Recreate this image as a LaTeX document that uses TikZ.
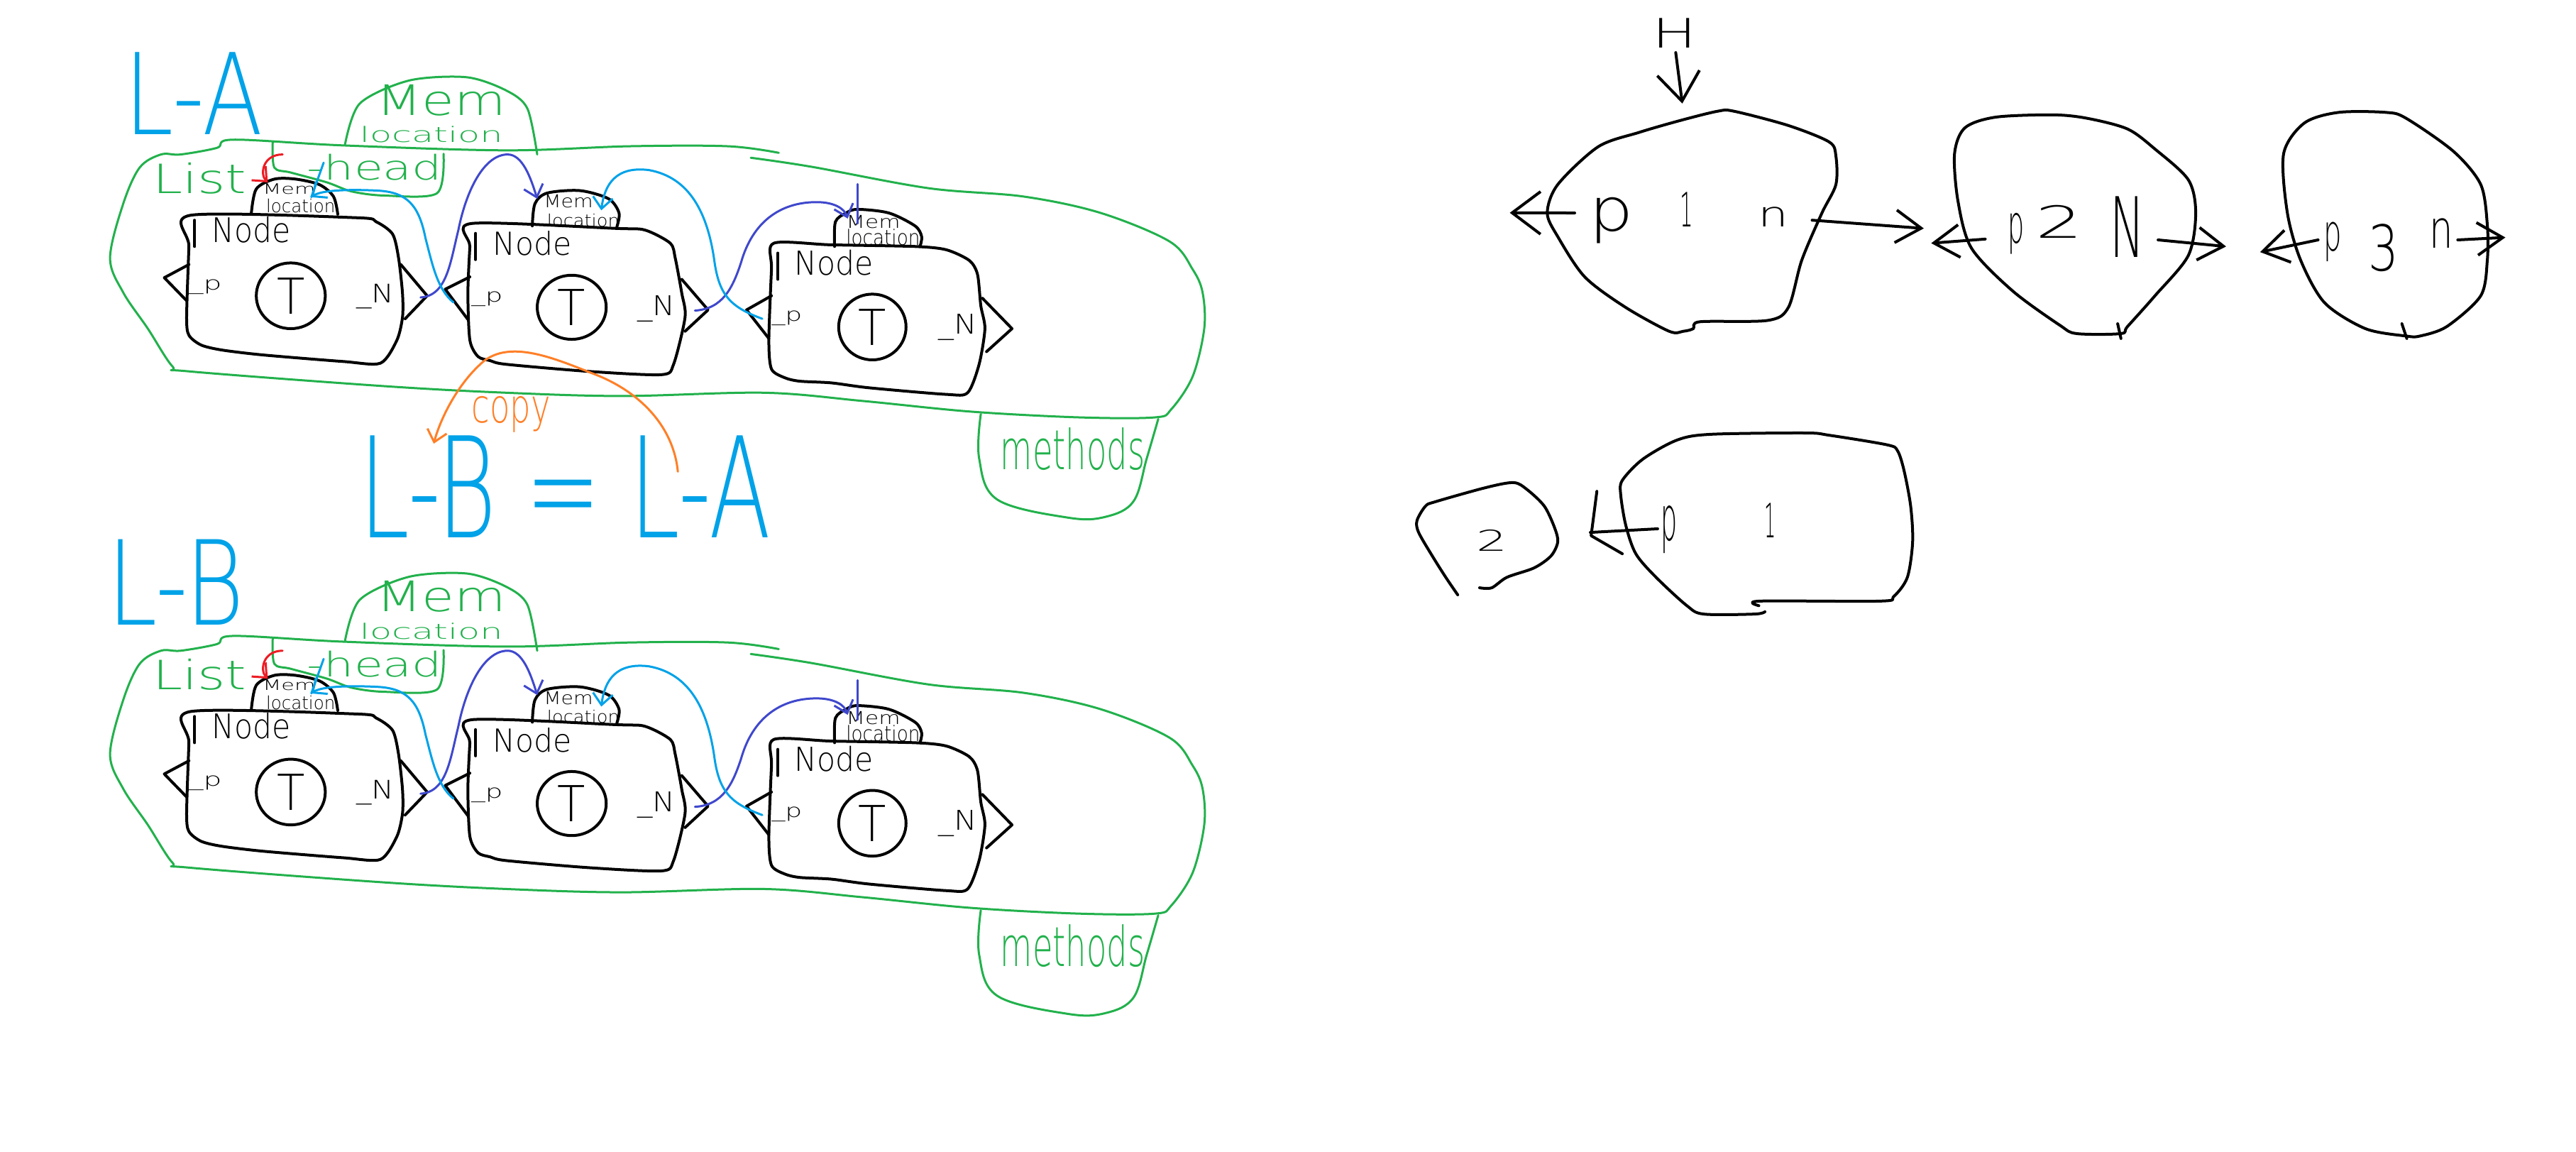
\documentclass[tikz,border=0pt]{standalone}
\usepackage{fontspec}
\setmainfont{DejaVu Sans ExtraLight}
\usetikzlibrary{arrows.meta,shapes.geometric}
\definecolor{pgreen}{RGB}{34,177,76}
\definecolor{plblue}{RGB}{0,162,232}
\definecolor{pdblue}{RGB}{63,72,204}
\definecolor{pred}{RGB}{237,28,36}
\definecolor{porange}{RGB}{255,127,39}
\newlength\su \setlength\su{2.315pt}
\newcommand{\hw}[3]{\resizebox*{#1\su}{#2\su}{#3}}
\tikzset{
  every node/.style={inner sep=0pt, outer sep=0pt},
  pen/.style={line cap=round, line join=round},
  blk/.style={pen, draw=black, line width=4pt},
  grn/.style={pen, draw=pgreen, line width=3pt},
  lbl/.style={pen, draw=plblue, line width=3pt},
  dbl/.style={pen, draw=pdblue, line width=3pt},
  rdl/.style={pen, draw=pred, line width=3pt},
  org/.style={pen, draw=porange, line width=3pt},
  tipsm/.style={-{Straight Barb[length=16pt,width=28pt]}},
  tipmd/.style={-{Straight Barb[length=36pt,width=46pt]}},
  tipbg/.style={-{Straight Barb[length=40pt,width=60pt]}},
  tcirc/.style={blk, ellipse, minimum width=42\su, minimum height=40\su},
}
\newcommand{\listsec}[2]{%
\begin{scope}[shift={(0,#2)}]
% container
\draw[grn] plot[smooth, tension=0.55] coordinates {(474,93) (443,89) (383,89) (308,91.5) (209,88.5) (142,85) (132,90) (110,94) (98,94) (85,102) (75,124) (67,157) (75,178) (90,200) (105,223) (115,226) (234,235) (308,239) (379,241) (465,239) (525,244) (591,250.5) (657,254) (703,254) (713,249) (726,229) (733,200) (732,178) (726,164) (712,147) (670,129.6) (623,119.6) (565,114.5) (494,101.5) (457,96)};
% methods
\draw[grn] plot[smooth, tension=0.6] coordinates {(597,252) (596,279) (607,304) (650,315) (673,314.5) (690,305) (698,279) (705,255)};
\node[text=pgreen] (#1meth) at (653,273.5) {\hw{88}{26}{methods}};
% mem location bubble
\draw[grn] plot[smooth] coordinates {(210,88) (219,63) (249,49) (284,47) (308,55) (321,66) (327,94)};
\node[text=pgreen] (#1mem) at (268.5,61) {\hw{79}{19}{Mem}};
\node[text=pgreen] (#1loc) at (262.5,82) {\hw{87}{10}{location}};
% list head
\node[text=pgreen] (#1list) at (121.5,108.5) {\hw{57}{19}{List}};
\node[text=pgreen] (#1head) at (228,102) {\hw{82}{16}{-head}};
\draw[grn] plot[smooth] coordinates {(166,86.5) (167,102) (177,105) (199,111) (214,116.5) (234,119) (266,117.6) (270,93.6)};
% node 1
\draw[blk] plot[smooth cycle, tension=0.45] coordinates {(116,131) (217,132.5) (229,135) (239,142.5) (242.6,157) (245,178.5) (245,193) (241.6,207) (231.6,221) (209,220) (160,216) (135,213) (122.5,210) (115,204) (113.6,193) (115,150)};
\draw[blk] (115,161) -- (100,169) -- (113.6,183);
\draw[blk] (244,161) -- (260,180) -- (246.6,194);
\draw[blk] (118.5,134) -- (118.5,150);
\draw[blk] plot[smooth] coordinates {(153,129.6) (156,115) (167,109) (180,109) (194.5,112.4) (203,119.6) (205.6,130.4)};
\node (#1m1a) at (176,115) {\hw{32}{6.5}{Mem}};
\node (#1m1b) at (183,125.5) {\hw{42}{8.5}{location}};
\node (#1n1) at (153,140) {\hw{48}{16}{Node}};
\node[tcirc] (#1t1) at (177,180) {\hw{17}{22}{T}};
\node (#1p1) at (125,174.5) {\hw{20}{9}{\_p}};
\node (#1x1) at (228.5,180.5) {\hw{23}{15}{\_N}};
% node 2
\draw[blk] plot[smooth cycle, tension=0.45] coordinates {(287,136) (375,139) (392.6,140) (408,148) (411,157) (415,178.5) (417,193) (410,221.7) (402.6,228) (358,226) (308,221.7) (298.5,219.5) (291,217) (286,207) (284.8,178.5) (286,150)};
\draw[blk] (286,168.5) -- (271,176) -- (284.8,194.4);
\draw[blk] (415,170) -- (431,188.6) -- (417,201.6);
\draw[blk] (289.5,142) -- (289.5,158);
\draw[blk] plot[smooth] coordinates {(324,137.5) (325.6,124) (333,117.5) (353,116) (370.5,121) (376.8,129.6) (375.5,138)};
\node (#1m2a) at (346,122.7) {\hw{30}{8}{Mem}};
\node (#1m2b) at (355,134) {\hw{44}{8}{location}};
\node (#1n2) at (324,148.3) {\hw{48}{15}{Node}};
\node[tcirc, minimum height=39\su] (#1t2) at (348,187) {\hw{17}{22}{T}};
\node (#1p2) at (296.5,182) {\hw{19}{9}{\_p}};
\node (#1x2) at (399.5,188) {\hw{23}{16}{\_N}};
% node 3
\draw[blk] plot[smooth cycle, tension=0.45] coordinates {(471,148) (506,149) (557,150) (576,152) (590,158.5) (595,167) (597,186) (599.5,200) (596,221.6) (589,239) (576,240) (529,236) (506,233) (487,232) (478,230) (469.6,224.6) (468,207) (469.6,164)};
\draw[blk] (469.6,180) -- (454.4,188.6) -- (468,206);
\draw[blk] (598,181.5) -- (616,200) -- (600.5,214);
\draw[blk] (473.5,154) -- (473.5,170);
\draw[blk] plot[smooth] coordinates {(508,150) (508.5,135) (515,129.6) (522,127.4) (541,129.6) (557,137.5) (561,144) (560,150)};
\node (#1m3a) at (531.5,135) {\hw{33}{8}{Mem}};
\node (#1m3b) at (537.5,144.5) {\hw{45}{10}{location}};
\node (#1n3) at (507.5,159.8) {\hw{48}{15.6}{Node}};
\node[tcirc, minimum width=41\su] (#1t3) at (531,199) {\hw{17}{22}{T}};
\node (#1p3) at (479,193.5) {\hw{18.5}{9}{\_p}};
\node (#1x3) at (583,199) {\hw{23.5}{16}{\_N}};
% connector end points
\coordinate (#1n1R) at (256,181);
\coordinate (#1b2in) at (327,121);
\coordinate (#1n2L) at (276,184);
\coordinate (#1b1in) at (189.5,120);
\coordinate (#1n2R) at (423,189);
\coordinate (#1b3in) at (516,133);
\coordinate (#1n3L) at (464,194);
\coordinate (#1b2inL) at (366,128);
\coordinate (#1hd) at (172,94);
\coordinate (#1b1top) at (163,111);
% next pointers
\draw[dbl, tipsm] (#1n1R) .. controls (272,180) and (274,160) .. (279,140) .. controls (284,115) and (295,94) .. (309,94) .. controls (318,94) and (323,108) .. (#1b2in);
\draw[dbl, tipsm] (#1n2R) .. controls (440,188) and (446,175) .. (451,160) .. controls (458,135) and (475,123) .. (497,123) .. controls (508,123) and (514,127) .. (#1b3in);
\draw[dbl] (522,112) -- (522,136);
% prev pointers
\draw[lbl, tipsm] (#1n2L) .. controls (266,176) and (263,160) .. (259,145) .. controls (255,125) and (248,117) .. (230,116) .. controls (210,115) and (195,116) .. (#1b1in);
\draw[lbl] (197,99) -- (#1b1in);
\draw[lbl, tipsm] (#1n3L) .. controls (445,187) and (438,180) .. (435,160) .. controls (431,130) and (420,108) .. (395,103.5) .. controls (375,101) and (368,112) .. (#1b2inL);
% head pointer
\draw[rdl, tipsm] (#1hd) .. controls (160,94) and (158,106) .. (#1b1top);
\end{scope}}

\begin{document}
\begin{tikzpicture}[x=2.315pt, y=-2.315pt]
\fill[white] (0,0) rectangle (1568,701);
\useasboundingbox (0,0) rectangle (1568,701);

% labels
\node[text=plblue] (la) at (118,57) {\hw{84}{50}{L-A}};
\node[text=plblue] (lb) at (107,354.5) {\hw{83}{52}{L-B}};
\node[text=plblue] (eq) at (344,296) {\hw{250}{62}{L-B = L-A}};

\listsec{A}{0}
\listsec{B}{302}

% copy arrow
\coordinate (cpS) at (412.6,287);
\coordinate (cpE) at (264,270);
\draw[org, tipsm] (cpS) .. controls (410,260) and (390,238) .. (360,227) .. controls (335,217) and (308,206) .. (292,222) .. controls (278,235) and (268,255) .. (cpE);
\node[text=porange] (copy) at (311,252) {\hw{48}{22}{copy}};

% ---------- right: doubly linked blobs ----------
\node (rH) at (1019.5,20) {\hw{27}{18}{H}};
\coordinate (r1top) at (1024,63);
\draw[blk, tipbg] (1020,32) -- (r1top);

\draw[blk] plot[smooth cycle, tension=0.5] coordinates {(1045.5,67.7) (1055.5,67.7) (1088.6,76.4) (1113.4,86.4) (1117.5,95) (1117.5,112.3) (1109,129.6) (1096.7,158.4) (1088.6,187) (1076,195) (1034.8,195.8) (1030.7,200) (1024.6,201.6) (1016,201.6) (989.4,187) (964.6,168.5) (948.2,144) (941.8,129.6) (948.2,112.3) (972.8,89.3) (997.6,80.6) (1022.5,73.4)};
\node (r1p) at (981,134) {\hw{27}{28}{p}};
\node (r1o) at (1026.6,127.7) {\hw{8}{21}{1}};
\node (r1n) at (1079.3,132) {\hw{18.6}{12}{n}};
\coordinate (r1L) at (958.5,129.6);
\coordinate (r1Lt) at (919,129.5);
\coordinate (r1R) at (1103,134);
\coordinate (r1Rt) at (1171,139);
\draw[blk, tipbg] (r1L) -- (r1Lt);
\draw[blk, tipmd] (r1R) -- (r1Rt);

\draw[blk] plot[smooth cycle, tension=0.5] coordinates {(1214.7,71.3) (1249.7,69.9) (1270.5,72) (1295,78.5) (1311.7,90.7) (1332,109.4) (1336.5,129.6) (1332,155.5) (1311.7,180) (1295,198.7) (1291,203) (1264,203) (1253.9,198) (1225,177) (1200,151) (1191.8,122.4) (1189.7,93.6) (1196,77.8)};
\draw[blk] (1289,197) -- (1291,206);
\node (r2p) at (1227,142) {\hw{10}{25}{p}};
\node (r2o) at (1253.5,135) {\hw{29}{20}{2}};
\node (r2n) at (1295,138) {\hw{21}{37}{N}};
\coordinate (r2L) at (1208.4,145.5);
\coordinate (r2Lt) at (1175.5,148);
\coordinate (r2R) at (1313.6,146);
\coordinate (r2Rt) at (1355,150);
\draw[blk, tipmd] (r2L) -- (r2Lt);
\draw[blk, tipmd] (r2R) -- (r2Rt);

\draw[blk] plot[smooth cycle, tension=0.5] coordinates {(1423.4,68.4) (1452.3,68.4) (1464.6,72) (1493.5,92.2) (1510,112.3) (1514,136.8) (1514,158.4) (1510,180) (1489.4,198.7) (1473,204.5) (1464.6,204.5) (1439.8,200) (1415,184.3) (1400.4,158.4) (1392.3,129.6) (1390,93.6) (1402.6,74.9)};
\draw[blk] (1462,197) -- (1465,206);
\node (r3p) at (1420,147) {\hw{11}{24}{p}};
\node (r3o) at (1451,151) {\hw{18.5}{29}{3}};
\node (r3n) at (1486,142) {\hw{14.5}{18}{n}};
\coordinate (r3L) at (1411,146);
\coordinate (r3Lt) at (1375.7,153.4);
\coordinate (r3R) at (1496,146);
\coordinate (r3Rt) at (1525,144.5);
\draw[blk, tipmd] (r3L) -- (r3Lt);
\draw[blk, tipmd] (r3R) -- (r3Rt);

% ---------- bottom right ----------
\draw[blk] plot[smooth, tension=0.5] coordinates {(900.6,357.7) (908,357.7) (917.3,351.3) (933.8,345.6) (944.1,338.3) (948.2,329.7) (946.2,321) (940,308) (929.6,298) (921.4,293.7) (904.9,296.6) (873.8,305.3) (867.7,308) (862.5,316.8) (863.5,324) (871.8,338.3) (880,351.3) (887.3,362)};
\node (s2) at (908,329) {\hw{19}{13}{2}};
\draw[blk] plot[smooth, tension=0.5] coordinates {(1070.6,368.6) (1071.3,365.8) (1144.5,365.8) (1152.8,362.9) (1161,351.3) (1164.2,329.7) (1163,308) (1159,286.5) (1155,274.3) (1148.6,270.7) (1113.6,264.9) (1099,263.5) (1041.3,264.3) (1020.8,267.8) (1000,279.4) (987.5,292.3) (986.5,301) (989.6,319.7) (995.7,337) (1008,351.3) (1026.8,368.6) (1037,373.7) (1068,373.7) (1074.3,372.3)};
\node (s1p) at (1016,322.5) {\hw{10}{29}{p}};
\node (s1o) at (1077.5,316.5) {\hw{7}{21}{1}};
\coordinate (s1L) at (1009,321.8);
\coordinate (s1Lt) at (968,324);
\draw[blk] (s1L) -- (s1Lt);
\draw[blk] (972,299) -- (968.5,326) -- (987.5,337);
\end{tikzpicture}
\end{document}
